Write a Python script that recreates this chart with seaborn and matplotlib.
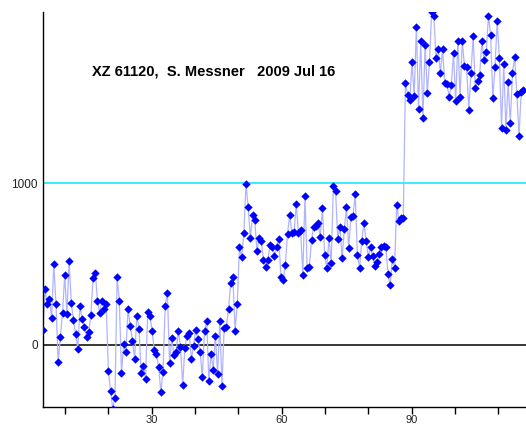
import numpy as np
import pandas as pd
import matplotlib
matplotlib.use("Agg")
import matplotlib.pyplot as plt
import seaborn as sns

# ---- data ----
x_start, x_end = 4.9, 115.8
values = [
    93, 344, 254, 284, 167, 503, 254, -105, 49, 198, 433, 192, 519, 260, 155, 68,
    -25, 243, 161, 113, 51, 82, 188, 416, 447, 274, 196, 274, 221, 254, -161, -283,
    -395, -326, 422, 274, -175, 4, -41, 221, 119, 27, -87, 181, 101, -173,
    -128, -208, 202, 181, 87, -31, -56, -134, -291, -167, 241, 322, -113, 41, -64, -41,
    87, -11, -247, -19, 58, 72, -87, -6, 93, 35, -41, -200, 87, 148, -223, -54,
    -155, 56, -179, 148, -254, 107, 113, 223, 382, 422, 87, 254, 604, 542,
    691, 994, 852, 660, 802, 773, 583, 660, 645, 526, 484, 526, 617, 608, 550, 608,
    657, 419, 402, 495, 685, 806, 691, 697, 872, 691, 709, 435, 921, 474, 484, 649,
    732, 736, 753, 670, 845, 557, 474, 664, 509, 983, 954, 656, 732,
    536, 715, 852, 598, 790, 798, 932, 557, 478, 645, 756, 645, 546, 604, 550, 490,
    513, 563, 608, 614, 608, 439, 369, 534, 478, 866, 769, 784, 784,
    1622, 1546, 1515, 1750, 1540, 1968, 1461, 1882, 1402, 1857, 1560, 1750, 2060, 2035,
    1773, 1830, 1684, 1830, 1618, 1614, 1535, 1608, 1804, 1509, 1882, 1535, 1882, 1725,
    1721, 1453, 1684, 1911, 1587, 1634, 1670, 1878, 1762, 1814, 2035, 1919, 1527, 1717,
    2005, 1777, 1342, 1738, 1330, 1625, 1375, 1684, 1783, 1552, 1294, 1566, 1577,
]
time = np.linspace(x_start, x_end, len(values))
ref_lines = [0, 1000]
ref_colors = ["black", "#00e8ff"]
major_ticks = [30, 60, 90]
minor_ticks = [10, 20, 40, 50, 70, 80, 100, 110]
ytick_vals = [0, 1000]
title_text = "XZ 61120,  S. Messner   2009 Jul 16"

df = pd.DataFrame({"t": time, "mag": values})

sns.set_style("white")
plt.rcParams["font.family"] = ["Liberation Sans", "DejaVu Sans"]

fig = plt.figure(figsize=(5.26, 4.24), dpi=100)
ax = fig.add_axes([43.3 / 526, 17.3 / 424, 1 - 43.3 / 526, (406.7 - 11.7) / 424])

for yv, c in zip(ref_lines, ref_colors):
    ax.axhline(yv, color=c, lw=1.1, zorder=1)

sns.lineplot(data=df, x="t", y="mag", ax=ax, color="#b0b4ff", lw=0.9,
             sort=False, zorder=2, estimator=None)
sns.scatterplot(data=df, x="t", y="mag", ax=ax, color="#0000ff", marker="D",
                s=18, linewidth=0, zorder=3)

ax.set_xlim(5, 116.4)
ax.set_ylim(-382, 2061)
ax.set_xlabel("")
ax.set_ylabel("")

ax.set_xticks(major_ticks)
ax.set_xticks(minor_ticks, minor=True)
ax.set_xticklabels([str(v) for v in major_ticks])
ax.set_yticks(ytick_vals)
ax.set_yticklabels([str(v) for v in ytick_vals])
ax.tick_params(axis="x", which="both", direction="out", length=5, width=1,
               color="black", bottom=True, labelsize=8, labelcolor="#222222", pad=1)
ax.tick_params(axis="y", length=0, labelsize=8.5, labelcolor="#222222", pad=4)

for s in ["top", "right"]:
    ax.spines[s].set_visible(False)
for s in ["left", "bottom"]:
    ax.spines[s].set_color("black")
    ax.spines[s].set_linewidth(1.0)

fig.text(92 / 526, 1 - 72 / 424, title_text, fontsize=10.5, fontweight="bold",
         ha="left", va="center", color="black")

fig.savefig("out.png", dpi=100)
